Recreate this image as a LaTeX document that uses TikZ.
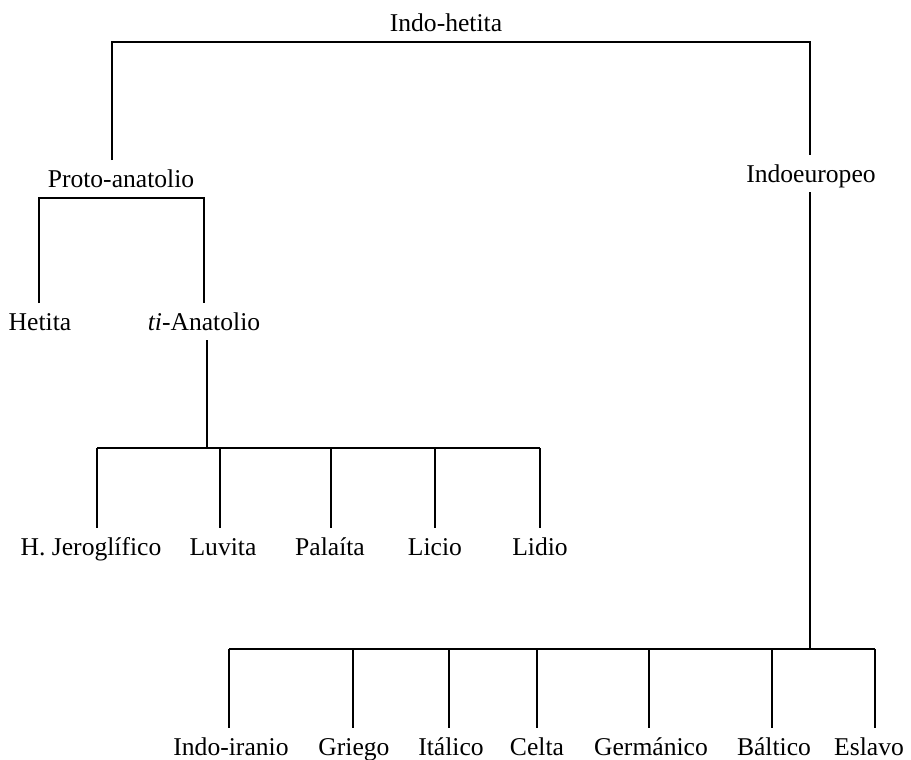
\documentclass[tikz,border=0pt]{standalone}
\usepackage{fontspec}
\setmainfont{Liberation Serif}
\begin{document}
\begin{tikzpicture}[x=0.5pt,y=-0.5pt,
  lbl/.style={font=\fontsize{12.8}{15}\selectfont, inner sep=0pt, outer sep=5pt,
              text height=8.5pt, text depth=0pt, anchor=base},
  branch/.style={line width=1.2pt, line cap=butt, line join=miter}]
\useasboundingbox (0,0) rectangle (911,760);

% language labels
\node[lbl] (ih) at (446,32)  {Indo-hetita};
\node[lbl] (pa) at (121,187) {Proto-anatolio};
\node[lbl] (ie) at (811,182) {Indoeuropeo};
\node[lbl] (he) at (40,330)  {Hetita};
\node[lbl] (ta) at (204,330) {\textit{ti}-Anatolio};

\node[lbl] (hj) at (91,555)  {H. Jeroglífico};
\node[lbl] (lu) at (223,555) {Luvita};
\node[lbl] (pl) at (330,555) {Palaíta};
\node[lbl] (lc) at (435,555) {Licio};
\node[lbl] (ld) at (540,555) {Lidio};

\node[lbl] (ii) at (231,755) {Indo-iranio};
\node[lbl] (gr) at (354,755) {Griego};
\node[lbl] (it) at (451,755) {Itálico};
\node[lbl] (ce) at (537,755) {Celta};
\node[lbl] (ge) at (651,755) {Germánico};
\node[lbl] (ba) at (774,755) {Báltico};
\node[lbl] (es) at (869,755) {Eslavo};

% bend points of the tree
\coordinate (tl) at (112,42);
\coordinate (tr) at (810,42);
\coordinate (pl0) at (39,198);
\coordinate (pr0) at (204,198);
\coordinate (am) at (207,448);
\coordinate (a1) at (97,448);
\coordinate (a2) at (220,448);
\coordinate (a3) at (331,448);
\coordinate (a4) at (435,448);
\coordinate (a5) at (540,448);
\coordinate (em) at (810,649);
\coordinate (e1) at (229,649);
\coordinate (e2) at (353,649);
\coordinate (e3) at (449,649);
\coordinate (e4) at (537,649);
\coordinate (e5) at (649,649);
\coordinate (e6) at (772,649);
\coordinate (e7) at (875,649);

% Indo-hetita split
\draw[branch] (tl |- pa.north) -- (tl) -- (tr) -- (tr |- ie.north);

% Proto-anatolio split
\draw[branch] (pl0 |- he.north) -- (pl0) -- (pr0) -- (pr0 |- ta.north);

% ti-Anatolio group
\draw[branch] (am |- ta.south) -- (am);
\draw[branch] (a1) -- (a5);
\draw[branch] (a1) -- (a1 |- hj.north);
\draw[branch] (a2) -- (a2 |- lu.north);
\draw[branch] (a3) -- (a3 |- pl.north);
\draw[branch] (a4) -- (a4 |- lc.north);
\draw[branch] (a5) -- (a5 |- ld.north);

% Indoeuropeo group
\draw[branch] (em |- ie.south) -- (em);
\draw[branch] (e1) -- (e7);
\draw[branch] (e1) -- (e1 |- ii.north);
\draw[branch] (e2) -- (e2 |- gr.north);
\draw[branch] (e3) -- (e3 |- it.north);
\draw[branch] (e4) -- (e4 |- ce.north);
\draw[branch] (e5) -- (e5 |- ge.north);
\draw[branch] (e6) -- (e6 |- ba.north);
\draw[branch] (e7) -- (e7 |- es.north);
\end{tikzpicture}
\end{document}
